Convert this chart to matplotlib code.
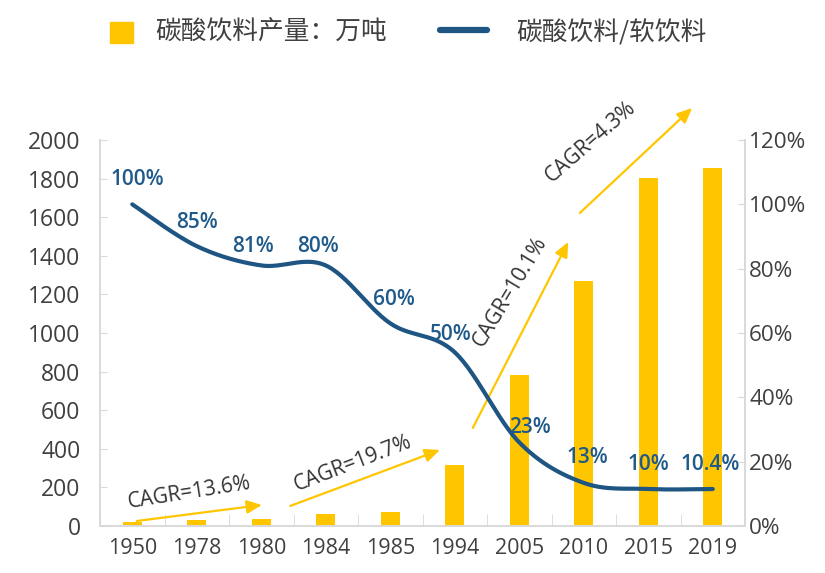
import numpy as np
import matplotlib
matplotlib.use("Agg")
import matplotlib.pyplot as plt
from matplotlib.patches import Rectangle
from matplotlib.lines import Line2D

plt.rcParams['font.family'] = ['Open Sans', 'Noto Sans CJK SC', 'DejaVu Sans']

years = ['1950', '1978', '1980', '1984', '1985', '1994', '2005', '2010', '2015', '2019']
production = [20, 30, 36, 62, 72, 316, 780, 1272, 1802, 1855]
# share as drawn by the curve
share = [100, 87, 81, 81, 63, 54, 26, 13.4, 11.5, 11.5]
share_labels = ['100%', '85%', '81%', '80%', '60%', '50%', '23%', '13%', '10%', '10.4%']
cagr_labels = ['CAGR=13.6%', 'CAGR=19.7%', 'CAGR=10.1%', 'CAGR=4.3%']
legend_labels = ['碳酸饮料产量：万吨', '碳酸饮料/软饮料']

BAR = '#FFC600'
LINE = '#1F5582'
LBL = '#1F5A8A'
TXT = '#404040'
GRID = '#D9D9D9'

fig = plt.figure(figsize=(8.25, 5.73), dpi=100)
ax = fig.add_axes([100/825, 1-526/573, 645/825, 386/573])
ax2 = ax.twinx()

x = np.arange(len(years))
ax.bar(x, production, width=0.3, color=BAR, zorder=2)
ax.set_xlim(-0.5, len(years)-0.5)
ax.set_ylim(0, 2000)
ax.set_yticks(np.arange(0, 2001, 200))
ax.set_xticks(x)
ax.set_xticklabels(years)
ax.set_xticks(np.arange(-0.5, len(years)), minor=True)
ax.tick_params(axis='x', which='major', length=0, labelsize=15.5, colors=TXT, pad=9)
ax.tick_params(axis='x', which='minor', direction='in', length=9, color=GRID)
ax.tick_params(axis='y', direction='in', length=5, color=GRID, labelsize=16.5, labelcolor=TXT, pad=14)

# smooth line (Excel-like smoothing)
pts = np.column_stack([x.astype(float), np.array(share, float)])
P = np.vstack([pts[0], pts, pts[-1]])
xs, ys = [], []
for i in range(1, len(P)-2):
    p0, p1, p2, p3 = P[i-1], P[i], P[i+1], P[i+2]
    c1 = p1 + (p2 - p0) / 6
    c2 = p2 - (p3 - p1) / 6
    t = np.linspace(0, 1, 30)[:, None]
    b = (1-t)**3*p1 + 3*(1-t)**2*t*c1 + 3*(1-t)*t**2*c2 + t**3*p2
    xs.extend(b[:, 0]); ys.extend(b[:, 1])
ax2.plot(xs, ys, color=LINE, lw=3.0, solid_capstyle='round', zorder=3)
ax2.set_ylim(0, 120)
ax2.set_yticks(np.arange(0, 121, 20))
ax2.set_yticklabels([f'{v}%' for v in range(0, 121, 20)])
ax2.tick_params(axis='y', direction='in', length=5, color=GRID, labelsize=16.2, labelcolor=TXT, pad=3)

for a in (ax, ax2):
    a.spines['top'].set_visible(False)
    for s in ['left', 'right', 'bottom']:
        a.spines[s].set_color(GRID)
        a.spines[s].set_linewidth(1.2)

# data labels for the share line (positions relative to each category)
label_dx = [0.08, 0.0, -0.13, -0.12, 0.06, -0.06, 0.17, 0.05, 0.0, -0.04]
label_y = [107.6, 94.5, 87.0, 87.0, 70.3, 59.4, 30.5, 21.4, 19.0, 19.0]
for i, lab in enumerate(share_labels):
    ax2.text(x[i] + label_dx[i], label_y[i], lab, ha='center', va='center', fontsize=15,
             color=LBL, fontweight='semibold', zorder=4)

# CAGR arrows
arrows = [((0.07, 26), (2.01, 109)), ((2.45, 104), (4.77, 394)),
          ((5.28, 508), (6.76, 1472)), ((6.94, 1622), (8.68, 2166))]
texts = [((0.89, 171), 9), ((3.42, 326), 21), ((5.86, 1212), 59), ((7.10, 1990), 41)]
for (tail, head), lab, (tpos, rot) in zip(arrows, cagr_labels, texts):
    ax.annotate('', xy=head, xytext=tail, xycoords='data', annotation_clip=False,
                arrowprops=dict(arrowstyle='-|>,head_length=0.9,head_width=0.4', color=BAR, lw=1.6,
                                shrinkA=0, shrinkB=0), zorder=5)
    ax.text(tpos[0], tpos[1], lab, rotation=rot, rotation_mode='anchor', ha='center', va='center',
            fontsize=15, color='#333333', clip_on=False, zorder=5)

# legend
fig.patches.append(Rectangle((110/825, 1-43/573), 23/825, 21/573, transform=fig.transFigure,
                             color=BAR, figure=fig))
fig.text(155/825, 1-33/573, legend_labels[0], fontsize=18.5, color=TXT, va='center', ha='left',
         family=['Noto Sans CJK SC', 'DejaVu Sans'])
fig.lines.append(Line2D([440/825, 487/825], [1-30/573, 1-30/573], transform=fig.transFigure,
                        color=LINE, lw=4.5, solid_capstyle='round', figure=fig))
fig.text(516/825, 1-33/573, legend_labels[1], fontsize=18.5, color=TXT, va='center', ha='left',
         family=['Noto Sans CJK SC', 'DejaVu Sans'])

fig.savefig('out.png', dpi=100)
